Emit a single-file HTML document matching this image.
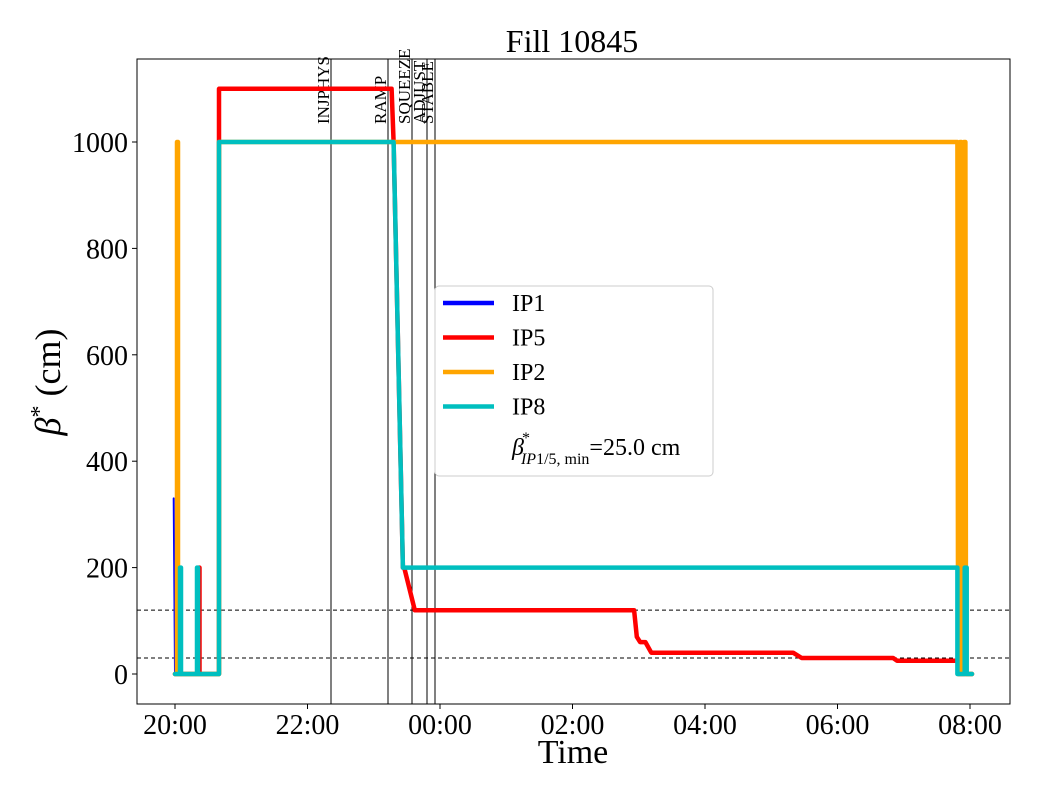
<!DOCTYPE html>
<html><head><meta charset="utf-8"><style>
body{margin:0;background:#fff}
svg text{font-family:"Liberation Serif",serif}
</style></head><body>
<svg id="chart" width="1040" height="800" xmlns="http://www.w3.org/2000/svg"></svg>
<script>
const xTickHours=[0,2,4,6,8,10,12];
const xTickLabels=["20:00","22:00","00:00","02:00","04:00","06:00","08:00"];
const yTicks=[0,200,400,600,800,1000];
const modeNames=["INJPHYS","RAMP","SQUEEZE","ADJUST","STABLE"];
const modeTimes=[2.355,3.215,3.577,3.804,3.925];
const hLines=[120,30];
const ip1T=[-0.02,-0.02,0,0.36,0.36,0.37,0.37,0.664,0.664,3.27,3.3,3.44,3.46,3.62,3.64,6.93,6.97,7.02,7.1,7.19,7.37,9.33,9.46,10.84,10.9,11.82,11.83,12.03];
const ip1V=[330,330,0,0,200,200,0,0,1100,1100,1000,200,200,120,120,120,70,60,60,40,40,40,30,30,25,25,0,0];
const ip5T=[0,0.36,0.36,0.37,0.37,0.664,0.664,3.27,3.3,3.44,3.46,3.62,3.64,6.93,6.97,7.02,7.1,7.19,7.37,9.33,9.46,10.84,10.9,11.82,11.83,12.03];
const ip5V=[0,0,200,200,0,0,1100,1100,1000,200,200,120,120,120,70,60,60,40,40,40,30,30,25,25,0,0];
const ip2T=[0,0.03,0.03,0.045,0.045,0.664,0.664,11.81,11.82,11.84,11.85,11.87,11.88,11.9,11.91,11.93,11.94,12.03];
const ip2V=[0,0,1000,1000,0,0,1000,1000,0,0,1000,1000,0,0,1000,1000,0,0];
const ip8T=[0,0.075,0.075,0.09,0.09,0.332,0.332,0.347,0.347,0.664,0.664,3.3,3.44,11.81,11.81,11.92,11.92,11.95,11.95,12.03];
const ip8V=[0,0,200,200,0,0,200,200,0,0,1000,1000,200,200,0,0,200,200,0,0];

const L=137,R=1010,T=59,B=704;
const x=h=>175+h*66.25;
const y=v=>674-v*0.532;
const svg=document.getElementById('chart');
const NS="http://www.w3.org/2000/svg";
function mk(tag,attrs,parent){const e=document.createElementNS(NS,tag);for(const k in attrs)e.setAttribute(k,attrs[k]);(parent||svg).appendChild(e);return e;}

const t=mk('text',{x:572,y:52,'font-size':32,'text-anchor':'middle'});t.textContent="Fill 10845";



hLines.forEach(v=>{const l=mk('line',{x1:L,x2:R,y1:y(v),y2:y(v),stroke:'#000','stroke-width':1,'stroke-dasharray':'4,3'});

});

modeTimes.forEach((h,i)=>{const l=mk('line',{x1:x(h),x2:x(h),y1:T,y2:B,stroke:'#000','stroke-width':1.2,'shape-rendering':'crispEdges'});


const tx=mk('text',{x:0,y:0,'font-size':17,'text-anchor':'start',transform:`translate(${x(h)-2},124) rotate(-90)`});
tx.textContent=modeNames[i];

});

function series(T_,V_,color,name,w){const pts=T_.map((h,i)=>x(h).toFixed(1)+','+y(V_[i]).toFixed(1)).join(' ');
const p=mk('polyline',{points:pts,fill:'none',stroke:color,'stroke-width':w,'stroke-linejoin':'round','stroke-linecap':'round'});

}
series(ip1T,ip1V,'#0000ff','series-ip1',2);
series(ip5T,ip5V,'#ff0000','series-ip5',4.5);
series(ip2T,ip2V,'#ffa500','series-ip2',4.5);
series(ip8T,ip8V,'#00bfbf','series-ip8',4.5);

const frame=mk('rect',{x:L,y:T,width:R-L,height:B-T,fill:'none',stroke:'#000','stroke-width':1});



yTicks.forEach(v=>{mk('line',{x1:L-5,x2:L,y1:y(v),y2:y(v),stroke:'#000'});
const tx=mk('text',{x:L-9,y:y(v)+10,'font-size':28,'text-anchor':'end'});tx.textContent=v;

});
xTickHours.forEach((h,i)=>{mk('line',{x1:x(h),x2:x(h),y1:B,y2:B+5,stroke:'#000'});
const tx=mk('text',{x:x(h),y:B+30,'font-size':28,'text-anchor':'middle'});tx.textContent=xTickLabels[i];

});

const xl=mk('text',{x:573,y:763,'font-size':34,'text-anchor':'middle'});xl.textContent="Time";


const yl=mk('text',{x:0,y:0,'font-size':36,'text-anchor':'middle',transform:'translate(60,382) rotate(-90)'});
yl.innerHTML='<tspan font-style="italic">β</tspan><tspan dy="-13" font-size="24">*</tspan><tspan dy="13"> (cm)</tspan>';



const lg=mk('g',{});


mk('rect',{x:435,y:286,width:278,height:190,rx:4,fill:'#fff','fill-opacity':0.85,stroke:'#ccc'},lg);
const names=["IP1","IP5","IP2","IP8"],cols=['#0000ff','#ff0000','#ffa500','#00bfbf'];
names.forEach((n,i)=>{const yy=303+i*34.5;
mk('line',{x1:443,x2:494,y1:yy,y2:yy,stroke:cols[i],'stroke-width':4.5},lg);
const tx=mk('text',{x:512,y:yy+8,'font-size':24},lg);tx.textContent=n;

});
const bt=mk('text',{x:512,y:455,'font-size':24},lg);
bt.innerHTML='<tspan font-style="italic">β</tspan><tspan dx="-2" dy="-12" font-size="16">*</tspan><tspan dx="-9" dy="21" font-size="16" font-style="italic">IP</tspan><tspan font-size="16">1/5, min</tspan><tspan dy="-9">=25.0 cm</tspan>';


</script>
</body></html>
